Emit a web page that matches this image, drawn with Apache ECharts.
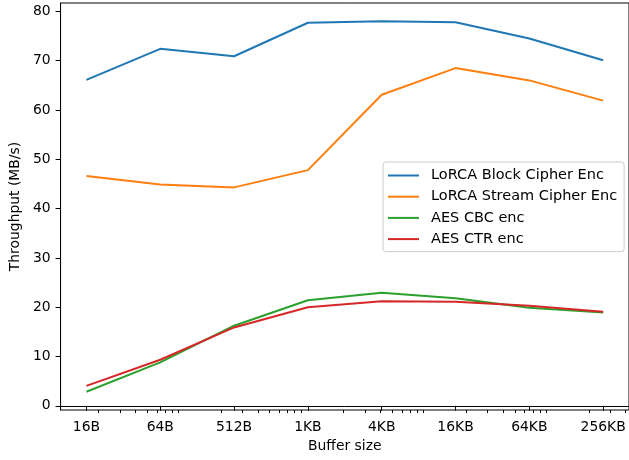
<!DOCTYPE html>
<html>
<head>
<meta charset="utf-8">
<script src="https://cdn.jsdelivr.net/npm/echarts@6/dist/echarts.min.js"></script>
<style>
  html, body { margin: 0; padding: 0; background: #fff; }
  #chart { width: 629px; height: 460px; }
</style>
</head>
<body>
<div id="chart"></div>
<script>
// Buffer sizes in bytes (log-scaled x axis) and their tick labels
const bufferSizes = [16, 64, 256, 1024, 4096, 16384, 65536, 262144];
const sizeLabels = ['16B', '64B', '512B', '1KB', '4KB', '16KB', '64KB', '256KB'];

// Throughput in MB/s
const lorcaBlock = [66.1, 72.4, 70.9, 77.7, 78.0, 77.8, 74.5, 70.1];
const lorcaStream = [46.6, 44.9, 44.3, 47.8, 63.1, 68.5, 66.0, 61.9];
const aesCbc = [2.85, 8.8, 16.25, 21.4, 22.95, 21.8, 19.9, 18.9];
const aesCtr = [4.05, 9.35, 15.9, 20.0, 21.2, 21.1, 20.3, 19.1];

const seriesNames = ['LoRCA Block Cipher Enc', 'LoRCA Stream Cipher Enc', 'AES CBC enc', 'AES CTR enc'];
const seriesColors = ['#1f77b4', '#ff7f0e', '#2ca02c', '#d62728'];
const yTicks = [0, 10, 20, 30, 40, 50, 60, 70, 80];

// Log-decade minor ticks (2..9 x 10^k) inside the x range
const xMin = 9.85, xMax = 425850;
const minorTicks = [];
for (let p = 1; p <= 100000; p *= 10) {
  for (let m = 2; m <= 9; m++) {
    const v = m * p;
    if (v > xMin && v < xMax) minorTicks.push(v);
  }
}

function sizeLabel(v) {
  let best = 0;
  for (let i = 1; i < bufferSizes.length; i++) {
    if (Math.abs(Math.log(bufferSizes[i] / v)) < Math.abs(Math.log(bufferSizes[best] / v))) best = i;
  }
  return sizeLabels[best];
}

const font = 'DejaVu Sans';
const fs = 13.9;

const chart = echarts.init(document.getElementById('chart'), null, { renderer: 'canvas' });

const seriesData = [lorcaBlock, lorcaStream, aesCbc, aesCtr];
const series = seriesData.map((vals, i) => ({
  name: seriesNames[i],
  type: 'line',
  xAxisIndex: 0,
  symbol: 'none',
  lineStyle: { color: seriesColors[i], width: 2 },
  itemStyle: { color: seriesColors[i] },
  data: bufferSizes.map((s, j) => [s, vals[j]])
}));

chart.setOption({
  animation: false,
  backgroundColor: '#fff',
  textStyle: { fontFamily: font },
  grid: {
    left: 59, top: 3, width: 573, height: 407,
    show: true, borderColor: '#000', borderWidth: 1, backgroundColor: 'transparent'
  },
  legend: {
    orient: 'vertical',
    left: 383, top: 162,
    padding: [6, 7, 5, 4],
    itemWidth: 31, itemHeight: 14, itemGap: 6.2,
    itemStyle: { opacity: 0 },
    backgroundColor: 'rgba(255,255,255,0.8)',
    borderColor: '#cccccc', borderWidth: 1, borderRadius: 3,
    textStyle: { fontFamily: font, fontSize: 14.5, color: '#000', padding: [0, 0, 0, 7] },
    data: seriesNames
  },
  xAxis: [
    {
      type: 'log', logBase: 4,
      min: xMin, max: xMax,
      position: 'bottom',
      name: 'Buffer size', nameLocation: 'middle', nameGap: 29,
      nameTextStyle: { fontFamily: font, fontSize: fs, color: '#000' },
      axisLine: { show: true, lineStyle: { color: '#000', width: 1 } },
      axisTick: { show: true, length: 5, lineStyle: { color: '#000', width: 1 }, customValues: bufferSizes },
      axisLabel: {
        show: true, margin: 10, fontFamily: font, fontSize: fs, color: '#000',
        hideOverlap: false,
        customValues: bufferSizes,
        formatter: (v) => sizeLabel(v)
      },
      splitLine: { show: false },
      minorTick: { show: false }
    },
    {
      type: 'log', logBase: 4,
      min: xMin, max: xMax,
      gridIndex: 0, position: 'bottom',
      axisLine: { show: false },
      axisTick: { show: true, length: 3, lineStyle: { color: '#000', width: 1 }, customValues: minorTicks },
      axisLabel: { show: false },
      splitLine: { show: false }
    }
  ],
  yAxis: {
    type: 'value',
    min: -0.85, max: 81.7,
    name: 'Throughput (MB/s)', nameLocation: 'middle', nameGap: 30,
    nameTextStyle: { fontFamily: font, fontSize: fs, color: '#000' },
    axisLine: { show: true, lineStyle: { color: '#000', width: 1 } },
    axisTick: { show: true, length: 5, lineStyle: { color: '#000', width: 1 }, customValues: yTicks },
    axisLabel: { show: true, margin: 10, fontFamily: font, fontSize: fs, color: '#000', customValues: yTicks },
    splitLine: { show: false }
  },
  series: series
});
</script>
</body>
</html>
